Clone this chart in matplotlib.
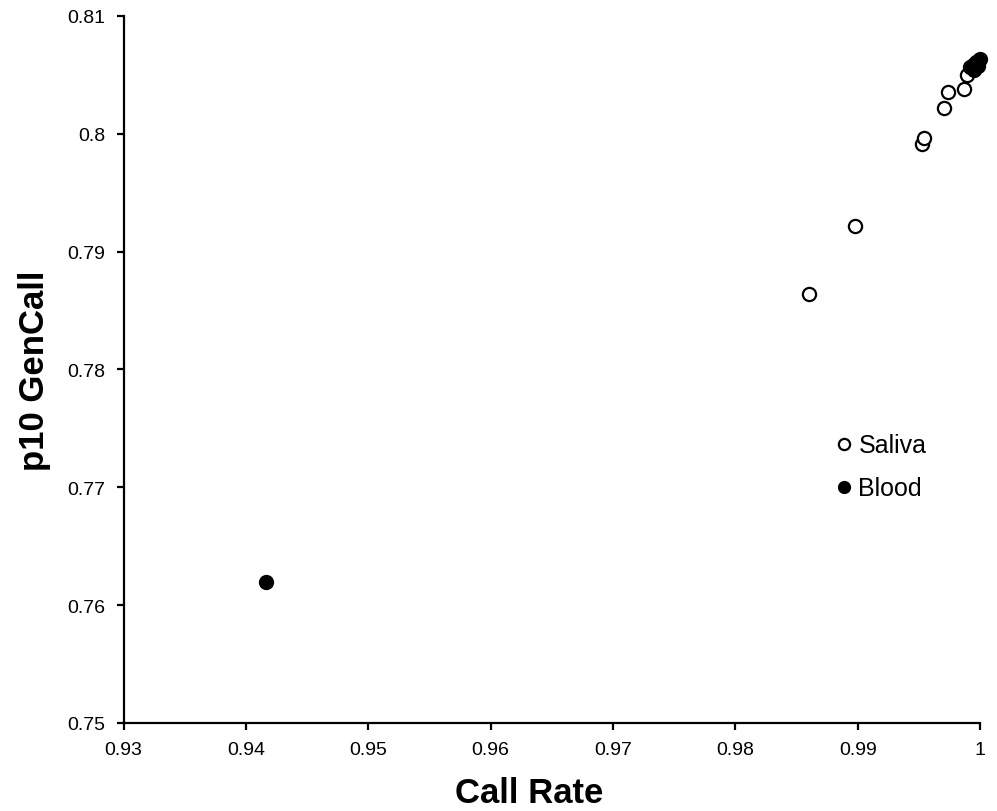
import matplotlib
matplotlib.use('Agg')
import matplotlib.pyplot as plt
from matplotlib.ticker import FuncFormatter

plt.rcParams['font.family'] = ['Liberation Sans', 'DejaVu Sans']

# saliva samples (open circles)
saliva_rate = [0.98605, 0.98976, 0.99527, 0.99545, 0.99705, 0.99738, 0.99872, 0.99889]
saliva_p10 = [0.78640, 0.79215, 0.79915, 0.79962, 0.80215, 0.80359, 0.80376, 0.80501]

# blood samples (filled circles)
blood_rate = [0.94163, 0.99913, 0.99938, 0.99962, 0.99987, 1.0000, 0.99946, 0.99979]
blood_p10 = [0.76198, 0.80567, 0.80584, 0.80610, 0.80626, 0.80635, 0.80542, 0.80576]

xticks = [0.93, 0.94, 0.95, 0.96, 0.97, 0.98, 0.99, 1.0]
yticks = [0.75, 0.76, 0.77, 0.78, 0.79, 0.80, 0.81]

fig = plt.figure(figsize=(9.97, 8.12), dpi=100)
ax = fig.add_axes([0.1239, 0.1084, 0.8592, 0.8707])

ax.plot(saliva_rate, saliva_p10, 'o', ms=9.5, mfc='white', mec='black', mew=1.6,
        linestyle='none', label='Saliva', clip_on=False, zorder=3)
ax.plot(blood_rate, blood_p10, 'o', ms=10, mfc='black', mec='black', mew=1,
        linestyle='none', label='Blood', clip_on=False, zorder=4)

ax.set_xlim(0.93, 1.0)
ax.set_ylim(0.75, 0.81)
ax.set_xticks(xticks)
ax.set_yticks(yticks)
fmt = FuncFormatter(lambda v, p: '%g' % round(v, 4))
ax.xaxis.set_major_formatter(fmt)
ax.yaxis.set_major_formatter(fmt)

for s in ['top', 'right']:
    ax.spines[s].set_visible(False)
for s in ['left', 'bottom']:
    ax.spines[s].set_linewidth(1.6)
ax.tick_params(direction='out', length=5, width=1.6, labelsize=14, pad=8)

ax.set_xlabel('Call Rate', fontsize=25, fontweight='bold')
ax.xaxis.set_label_coords(0.474, -0.075)
ax.set_ylabel('p10 GenCall', fontsize=25, fontweight='bold')
ax.yaxis.set_label_coords(-0.085, 0.5)

ax.legend(loc='upper left', bbox_to_anchor=(816 / 997, 1 - 422 / 812),
          bbox_transform=fig.transFigure, frameon=False, fontsize=18,
          handletextpad=0.0, labelspacing=0.75, borderpad=0, handlelength=1.2,
          markerscale=0.85)

fig.savefig('out.png', dpi=100)
